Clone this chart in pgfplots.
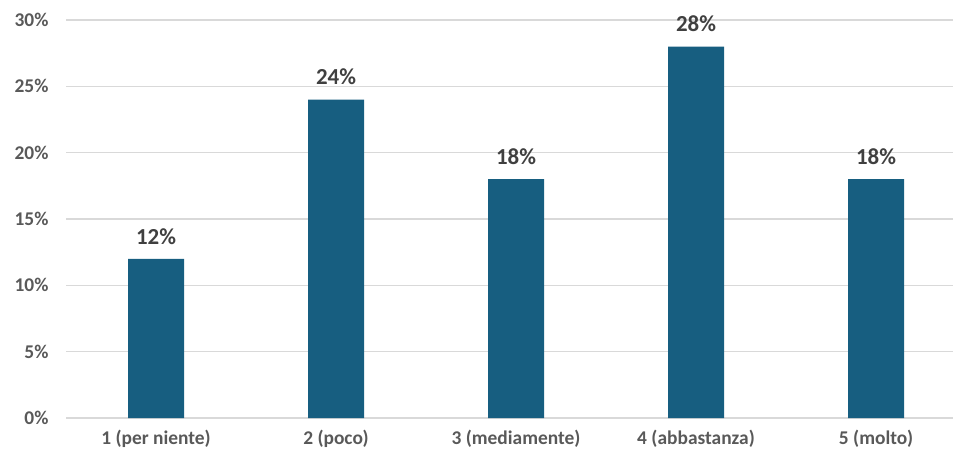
\documentclass[border=0pt]{standalone}
\usepackage{fontspec}
\setmainfont{Carlito}
\usepackage{pgfplots}
\pgfplotsset{compat=1.18}
\definecolor{barc}{RGB}{23,94,128}
\definecolor{tickc}{RGB}{89,89,89}
\definecolor{labc}{RGB}{64,64,64}
\definecolor{gridc}{RGB}{217,217,217}
\begin{document}
\begin{tikzpicture}[x=1bp,y=1bp]
\useasboundingbox (-66bp,-37bp) rectangle (887bp,418bp);
\begin{axis}[
  at={(0,0)}, anchor=south west,
  scale only axis,
  width=900bp, height=398bp,
  xmin=-0.5, xmax=4.5,
  ymin=0, ymax=30,
  ytick={0,5,...,30},
  xtick={0,1,2,3,4},
  xticklabels={1 (per niente),2 (poco),3 (mediamente),4 (abbastanza),5 (molto)},
  yticklabel={\pgfmathprintnumber{\tick}\%},
  /pgf/number format/assume math mode=true,
  axis line style={draw=none},
  major tick length=0pt,
  ymajorgrids,
  grid style={gridc, line width=1.5bp},
  ticklabel style={font=\bfseries\fontsize{19.5}{24}\selectfont, text=tickc},
  yticklabel style={xshift=-14bp},
  xticklabel style={yshift=-9bp},
  ybar,
  bar width=56bp,
  nodes near coords={\pgfmathprintnumber{\pgfplotspointmeta}\%},
  nodes near coords style={font=\bfseries\fontsize{23}{27}\selectfont, text=labc, yshift=11bp},
  clip=false,
]
\addplot[fill=barc, draw=none] coordinates {(0,12) (1,24) (2,18) (3,28) (4,18)};
\end{axis}
\end{tikzpicture}
\end{document}
